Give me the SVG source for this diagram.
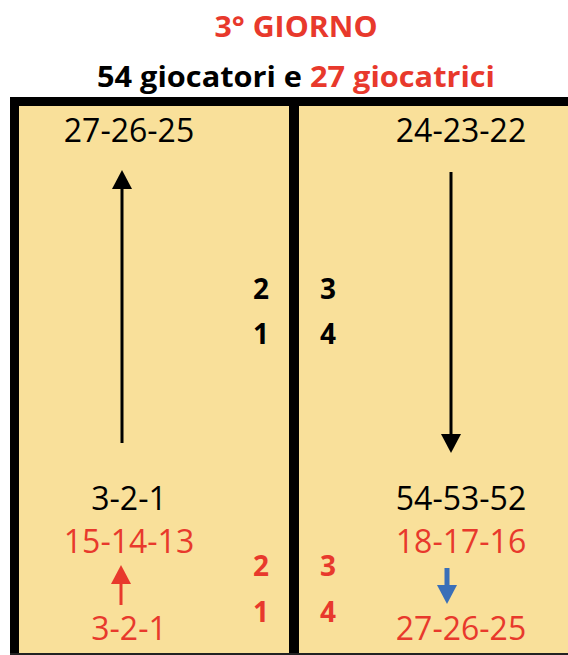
<svg xmlns="http://www.w3.org/2000/svg" width="568" height="655" viewBox="0 0 568 655">
<style>
text{font-family:"Open Sans","Liberation Sans",sans-serif;text-anchor:middle}
.n{font-size:32px}
.b{font-size:28px;font-weight:bold}
.h{font-size:28px;font-weight:bold}
.k{fill:#000}
.r{fill:#E8392C}
</style>
<rect width="568" height="655" fill="#fff"/>
<g id="frame">
<rect x="19" y="106" width="549" height="547" fill="#F9E09A"/>
<rect x="10" y="97" width="558" height="9" fill="#000"/>
<rect x="10" y="97" width="9" height="558" fill="#000"/>
<rect x="289" y="97" width="10" height="558" fill="#000"/>
<rect x="10" y="653" width="558" height="2" fill="#222"/>
</g>
<g id="title">
<text class="h r" x="296" y="37" textLength="163" lengthAdjust="spacingAndGlyphs">3° GIORNO</text>
<text class="h" x="296" y="87" textLength="398" lengthAdjust="spacingAndGlyphs"><tspan class="k">54 giocatori e </tspan><tspan class="r">27 giocatrici</tspan></text>
</g>
<g id="left-top"><text class="n k" x="129" y="142">27-26-25</text></g>
<g id="right-top"><text class="n k" x="461" y="142">24-23-22</text></g>
<g id="numbers-black">
<text class="b k" x="261" y="299">2</text>
<text class="b k" x="328" y="299">3</text>
<text class="b k" x="261" y="344">1</text>
<text class="b k" x="328" y="344">4</text>
</g>
<g id="left-bottom">
<text class="n k" x="129" y="510">3-2-1</text>
<text class="n r" x="129" y="553">15-14-13</text>
<text class="n r" x="129" y="640">3-2-1</text>
</g>
<g id="right-bottom">
<text class="n k" x="461" y="510">54-53-52</text>
<text class="n r" x="461" y="553">18-17-16</text>
<text class="n r" x="461" y="640">27-26-25</text>
</g>
<g id="numbers-red">
<text class="b r" x="261" y="576">2</text>
<text class="b r" x="328" y="576">3</text>
<text class="b r" x="261" y="622">1</text>
<text class="b r" x="328" y="622">4</text>
</g>
<g id="connectors">
<line x1="122" y1="443" x2="122" y2="186" stroke="#000" stroke-width="3"/>
<polygon points="122,170 112,189 132,189" fill="#000"/>
<line x1="451" y1="172" x2="451" y2="436" stroke="#000" stroke-width="3"/>
<polygon points="451,453 441,434 461,434" fill="#000"/>
<line x1="121" y1="605" x2="121" y2="582" stroke="#E8392C" stroke-width="3"/>
<polygon points="121,565 111,584 131,584" fill="#E8392C"/>
<line x1="447" y1="568" x2="447" y2="587" stroke="#3A6FB8" stroke-width="5"/>
<polygon points="447,604 437,585 457,585" fill="#3A6FB8"/>
</g>
</svg>
